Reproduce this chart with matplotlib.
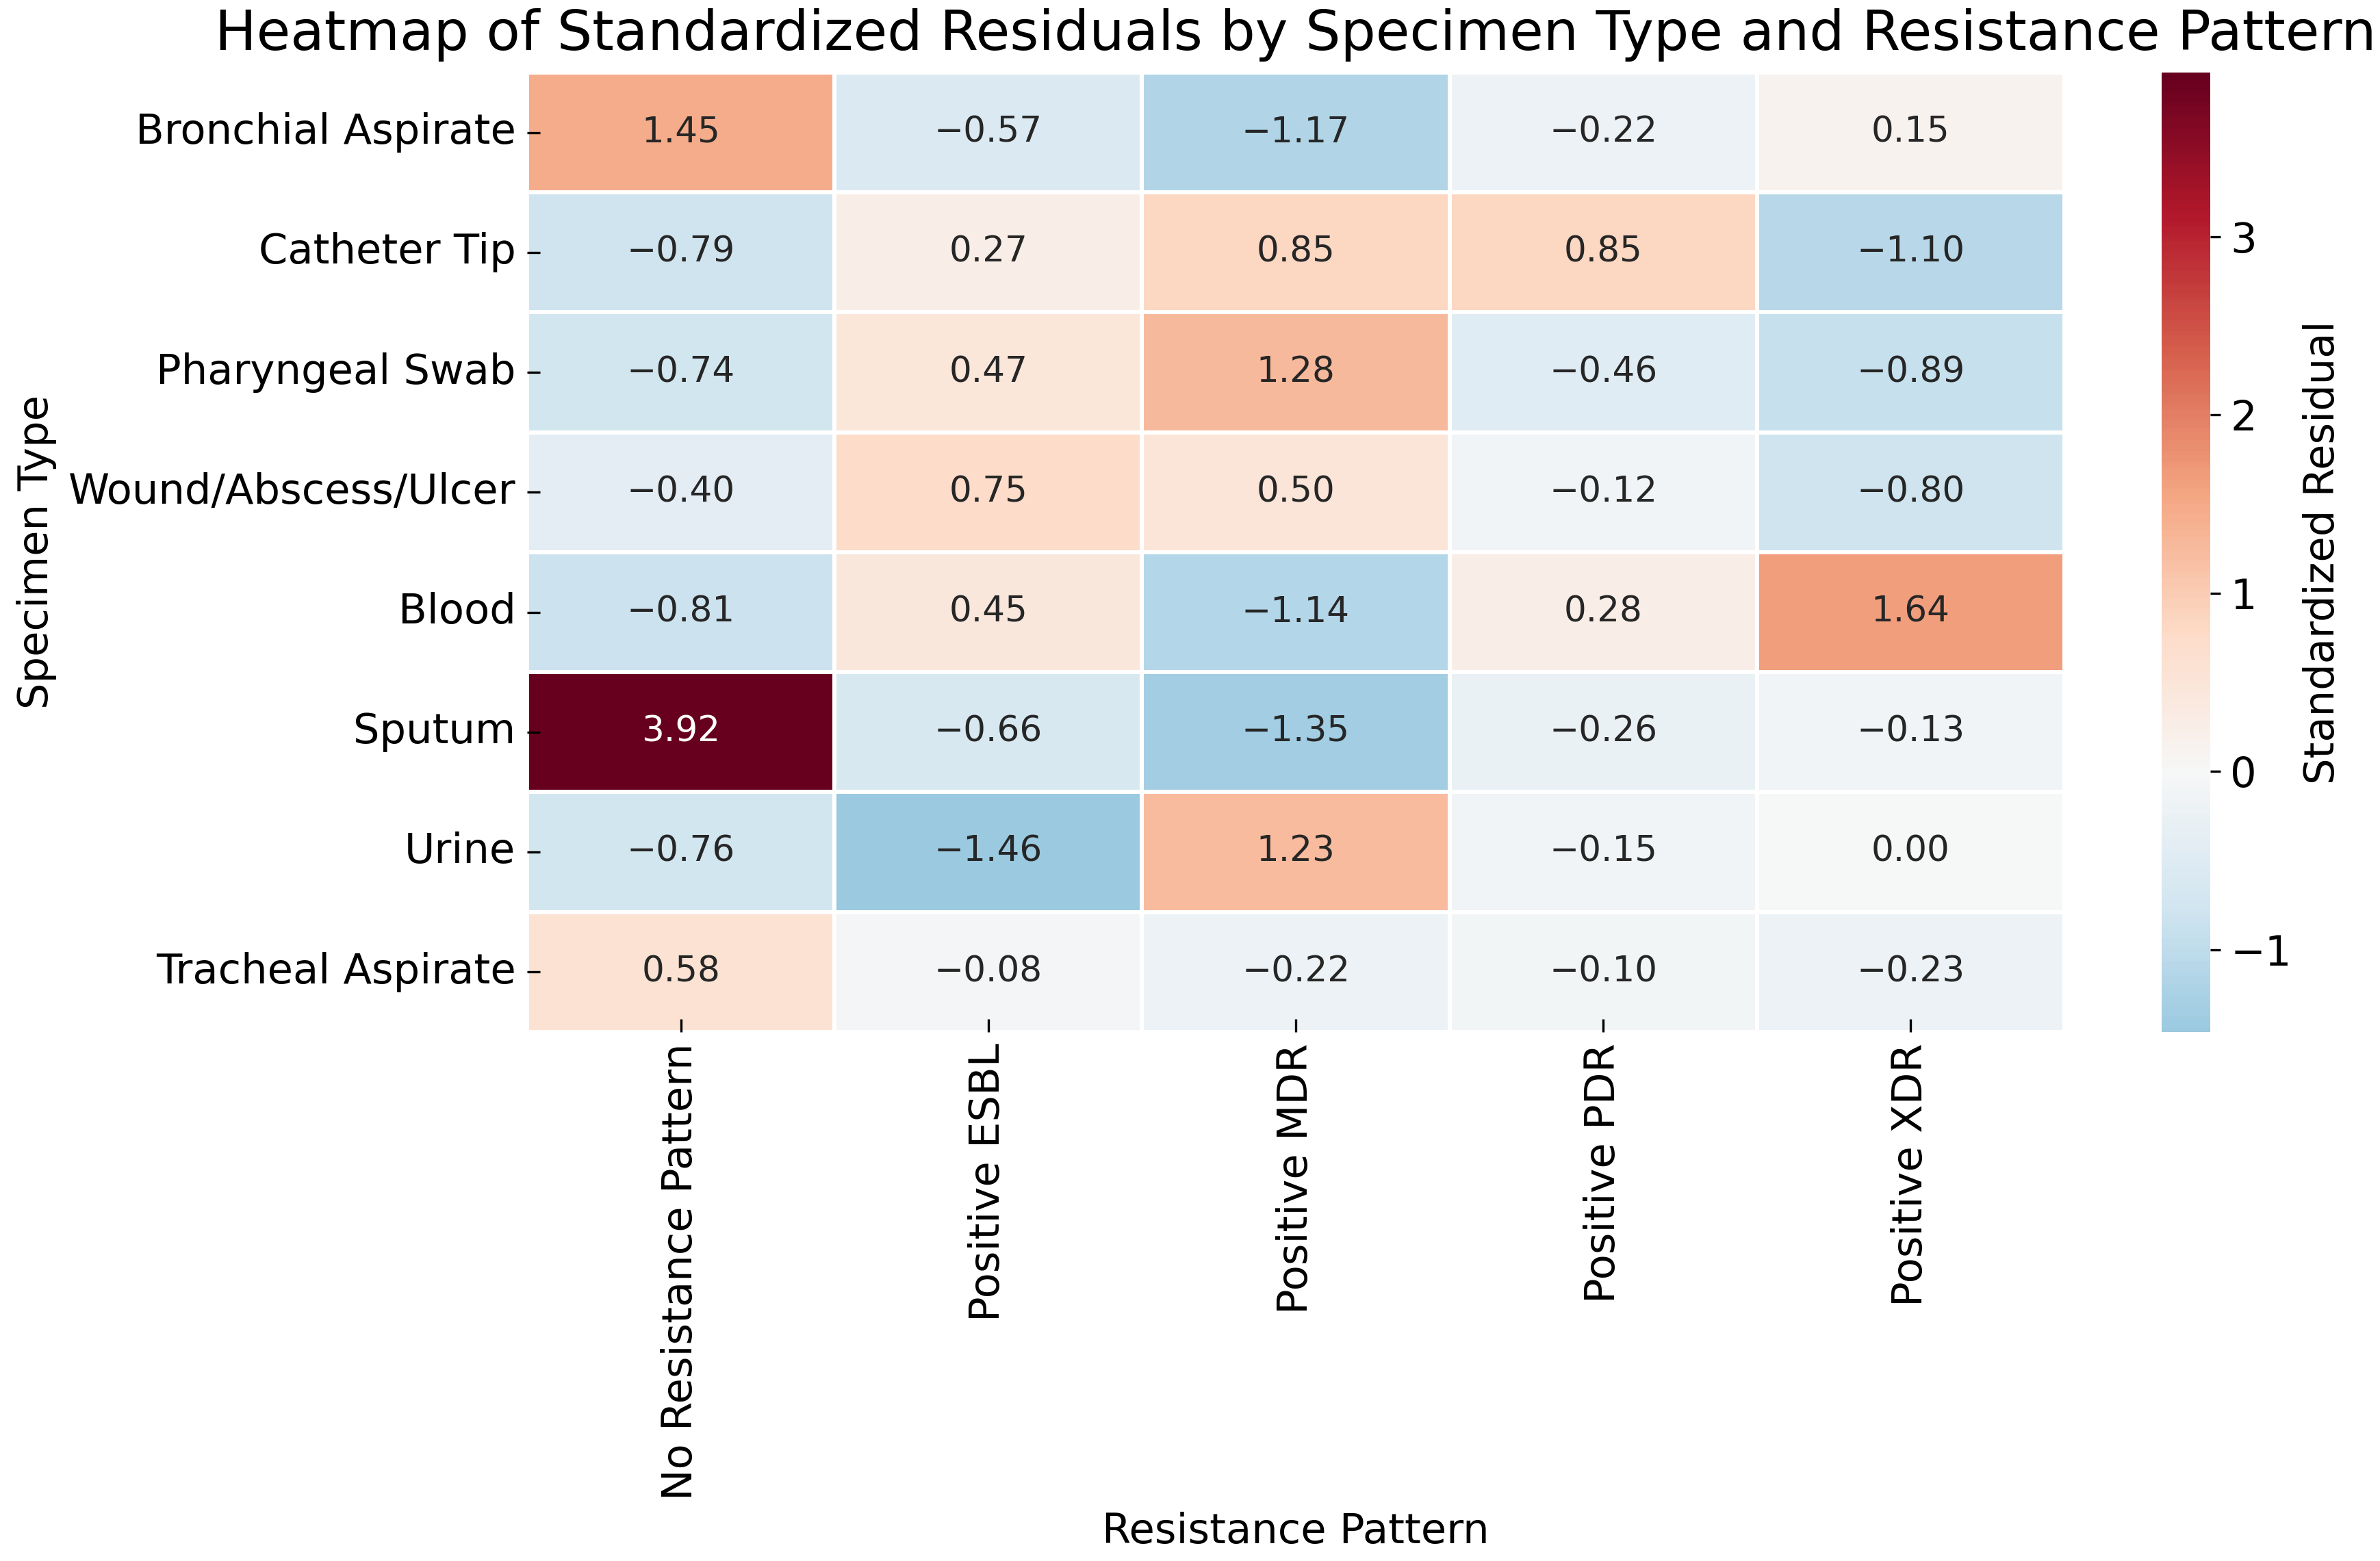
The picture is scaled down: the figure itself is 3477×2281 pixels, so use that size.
import numpy as np
import pandas as pd
import seaborn as sns
import matplotlib.pyplot as plt

specimens = ["Bronchial Aspirate", "Catheter Tip", "Pharyngeal Swab", "Wound/Abscess/Ulcer",
             "Blood", "Sputum", "Urine", "Tracheal Aspirate"]
patterns = ["No Resistance Pattern", "Positive ESBL", "Positive MDR", "Positive PDR", "Positive XDR"]

no_resistance = [1.45, -0.79, -0.74, -0.40, -0.81, 3.92, -0.76, 0.58]
pos_esbl = [-0.57, 0.27, 0.47, 0.75, 0.45, -0.66, -1.46, -0.08]
pos_mdr = [-1.17, 0.85, 1.28, 0.50, -1.14, -1.35, 1.23, -0.22]
pos_pdr = [-0.22, 0.85, -0.46, -0.12, 0.28, -0.26, -0.15, -0.10]
pos_xdr = [0.15, -1.10, -0.89, -0.80, 1.64, -0.13, 0.00, -0.23]

residuals = pd.DataFrame(
    np.column_stack([no_resistance, pos_esbl, pos_mdr, pos_pdr, pos_xdr]),
    index=specimens, columns=patterns)

# cell labels with a proper minus sign
labels = residuals.map(lambda v: f"{v:.2f}".replace("-", "\u2212"))

fig = plt.figure(figsize=(3477 / 300, 2281 / 300), dpi=300)
ax = fig.add_axes([0.2215, 0.339, 0.6459, 0.6145])
cax = fig.add_axes([0.9083, 0.339, 0.0204, 0.6145])

sns.heatmap(residuals, annot=labels.values, fmt="", cmap="RdBu_r", center=0,
            linewidths=1, linecolor="white", annot_kws={"size": 12.4},
            ax=ax, cbar_ax=cax, cbar_kws={"label": "Standardized Residual"})

ax.set_title("Heatmap of Standardized Residuals by Specimen Type and Resistance Pattern",
             fontsize=19.4, pad=8)
ax.set_xlabel("Resistance Pattern", fontsize=14.6)
ax.set_ylabel("Specimen Type", fontsize=14.6)
ax.tick_params(axis="both", labelsize=14.6, direction="in", length=4.5, pad=4)
plt.setp(ax.get_xticklabels(), rotation=90)
plt.setp(ax.get_yticklabels(), rotation=0)

cax.tick_params(labelsize=14.6)
cax.set_ylabel("Standardized Residual", fontsize=14.6)

fig.savefig("out.png", dpi=300)
